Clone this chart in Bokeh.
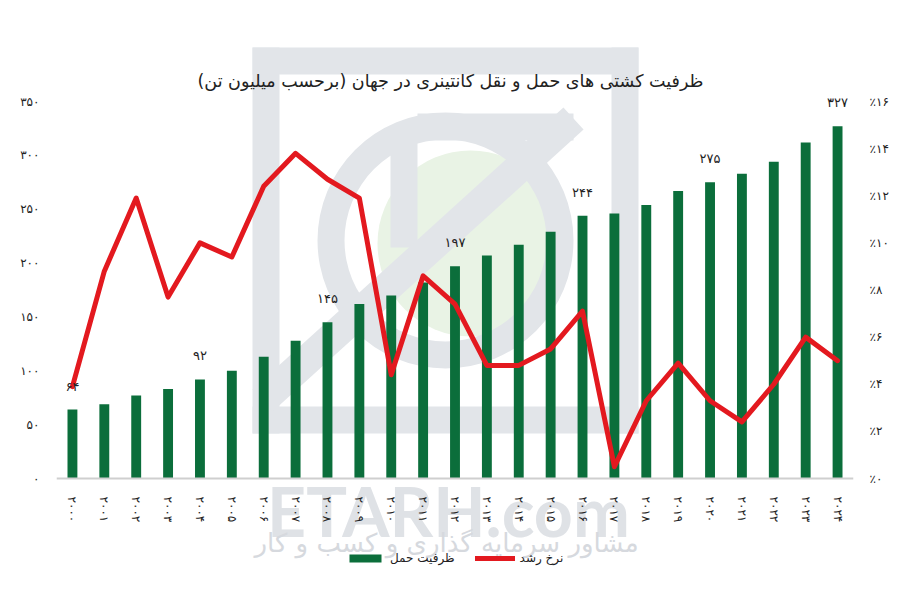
from bokeh.plotting import figure
from bokeh.models import Range1d, LinearAxis, FixedTicker, Legend, LegendItem, Label
from bokeh.embed import file_html
from bokeh.resources import INLINE
from bokeh.core.properties import value

# ---- data ----
years = list(range(2000, 2025))
capacity = [64, 69, 77, 83, 92, 100, 113, 128, 145, 162, 170, 182, 197,
            207, 217, 229, 244, 246, 254, 267, 275, 283, 294, 312, 327]
growth = [3.9, 8.8, 11.9, 7.7, 10.0, 9.4, 12.4, 13.8, 12.7, 11.9, 4.4, 8.6,
          7.4, 4.8, 4.8, 5.5, 7.1, 0.5, 3.3, 4.9, 3.3, 2.4, 4.0, 6.0, 5.0]
labeled_years = [2000, 2004, 2008, 2012, 2016, 2020, 2024]
labeled_values = [64, 92, 145, 197, 244, 275, 327]
left_ticks = [0, 50, 100, 150, 200, 250, 300, 350]
right_ticks = [0, 2, 4, 6, 8, 10, 12, 14, 16]

title_text = "ظرفیت کشتی های حمل و نقل کانتینری در جهان (برحسب میلیون تن)\u200F"
bar_name = "ظرفیت حمل"
line_name = "نرخ رشد"
wm_latin = "ETARH.com"
wm_fa = "مشاور سرمایه گذاری و کسب و کار"

FA = str.maketrans("0123456789", "۰۱۲۳۴۵۶۷۸۹")
def fa(v):
    return str(v).translate(FA)

FONT = "DejaVu Sans"
GREEN = "#0b6e3b"
RED = "#e3191f"
WM_GRAY = "#e2e5e9"
WM_GREEN = "#e9f3e5"

# ---- layout (pixels) ----
W, H = 898, 598
LEFT, RIGHT = 56, 45          # side borders for the value axes
TOP_PX, BASE_PX = 101, 478    # pixel rows of 350 and of 0
LMAX, RMAX = 350, 16
X0, X1 = 1999.5, 2024.5
ppu = (BASE_PX - TOP_PX) / LMAX
ppx = (W - RIGHT - LEFT) / (X1 - X0)
y_hi = LMAX + TOP_PX / ppu
y_lo = -(H - BASE_PX) / ppu
k = RMAX / LMAX

def py(px):
    """pixel row -> left-axis data value"""
    return (BASE_PX - px) / ppu

def pxx(px):
    """pixel column -> x data value"""
    return X0 + (px - LEFT) / ppx

p = figure(width=W, height=H,
           x_range=Range1d(X0, X1), y_range=Range1d(y_lo, y_hi),
           output_backend="svg", toolbar_location=None,
           min_border_left=LEFT, min_border_right=RIGHT,
           min_border_top=0, min_border_bottom=0)
p.extra_y_ranges = {"pct": Range1d(y_lo * k, y_hi * k)}
p.xgrid.visible = False
p.ygrid.visible = False
p.outline_line_color = None
p.title.visible = False

# ---- faint logo watermark (under the marks) ----
p.circle(x=[pxx(470)], y=[py(243)], radius=93, radius_units="screen",
         fill_color=WM_GREEN, line_color=None, level="underlay")
p.annulus(x=[pxx(445)], y=[py(240)], inner_radius=101, outer_radius=128,
          inner_radius_units="screen", outer_radius_units="screen",
          fill_color=WM_GRAY, line_color=None, level="underlay")
p.quad(left=[pxx(252), pxx(252), pxx(252), pxx(611), pxx(417), pxx(390)],
       right=[pxx(638), pxx(638), pxx(279), pxx(638), pxx(573), pxx(417)],
       top=[py(47), py(406), py(47), py(47), py(113), py(140)],
       bottom=[py(74), py(433), py(433), py(433), py(140), py(247)],
       fill_color=WM_GRAY, line_color=None, level="underlay")
p.line(x=[pxx(573), pxx(262)], y=[py(118), py(400)], line_width=30,
       line_color=WM_GRAY, level="underlay")

p.add_layout(Label(x=pxx(448), y=py(510), text=wm_latin, text_align="center",
                   text_baseline="alphabetic", text_font="Lato",
                   text_font_style="bold", text_font_size="68px",
                   text_color="#dfe2e6", level="underlay"))
p.add_layout(Label(x=pxx(446), y=py(542), text=wm_fa, text_align="center",
                   text_baseline="middle", text_font=FONT,
                   text_font_size="26px", text_color="#d6d9de",
                   level="underlay"))

# x axis, pinned at 0
xa = p.xaxis[0]
xa.fixed_location = 0
xa.ticker = FixedTicker(ticks=years)
xa.major_label_overrides = {y: fa(y) for y in years}
xa.major_label_orientation = "vertical"
xa.axis_line_color = "#cfcfcf"
xa.axis_line_width = 2
xa.major_tick_line_color = None
xa.minor_tick_line_color = None
xa.major_label_standoff = 12
xa.major_label_text_font = FONT
xa.major_label_text_font_size = "12px"
xa.major_label_text_color = "#222222"

# left axis
ya = p.yaxis[0]
ya.ticker = FixedTicker(ticks=left_ticks)
ya.major_label_overrides = {t: fa(t) for t in left_ticks}
ya.axis_line_color = None
ya.major_tick_line_color = None
ya.minor_tick_line_color = None
ya.major_label_standoff = 11
ya.major_label_text_font = FONT
ya.major_label_text_font_size = "12px"
ya.major_label_text_color = "#222222"

# right axis
ra = LinearAxis(y_range_name="pct", ticker=FixedTicker(ticks=right_ticks))
ra.major_label_overrides = {t: "٪" + fa(t) for t in right_ticks}
ra.axis_line_color = None
ra.major_tick_line_color = None
ra.minor_tick_line_color = None
ra.major_label_standoff = 10
ra.major_label_text_font = FONT
ra.major_label_text_font_size = "12px"
ra.major_label_text_color = "#222222"
p.add_layout(ra, "right")

bars = p.vbar(x=years, top=capacity, bottom=0, width=0.31, fill_color=GREEN,
              line_color=None)
line = p.line(years, growth, y_range_name="pct", line_width=5,
              line_color=RED, line_join="round", line_cap="round")

p.text(x=labeled_years, y=labeled_values,
       text=[fa(v) for v in labeled_values],
       text_align="center", text_baseline="bottom", y_offset=-16,
       text_font=value(FONT), text_font_size="13px", text_color="#222222")

# chart title
p.add_layout(Label(x=pxx(450), y=py(80), text=title_text, text_align="center",
                   text_baseline="middle", text_font=FONT,
                   text_font_size="17.5px", text_color="#222222"))

legend = Legend(items=[LegendItem(label=bar_name, renderers=[bars]),
                       LegendItem(label=line_name, renderers=[line])],
                orientation="horizontal", location=(289, H - 568),
                glyph_width=40, glyph_height=10, label_height=20,
                label_standoff=5, spacing=20, padding=0, margin=0,
                border_line_color=None, background_fill_alpha=0,
                label_text_font=FONT, label_text_font_size="12px",
                label_text_color="#222222")
p.add_layout(legend, "center")

open("out.html", "w").write(file_html(p, INLINE))
